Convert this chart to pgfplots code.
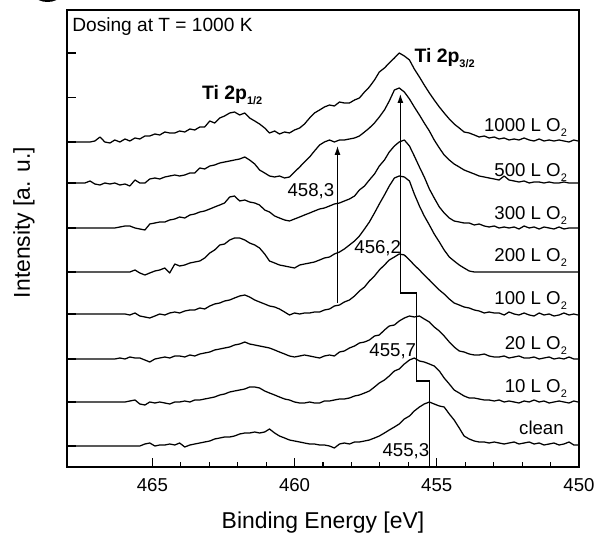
\documentclass[border=0pt]{standalone}
\usepackage{fontspec}
\setmainfont{Liberation Sans}
\usepackage{pgfplots}
\pgfplotsset{compat=1.18}
\usepackage{pgfplotstable}
\usetikzlibrary{arrows.meta}

\pgfplotstableread{
E c1000 c500 c300 c200 c100 c20 c10 clean
468.00 325 284 239 195 153 108 65 21
467.89 325 284 239 195 153 108 65 21
467.72 325 284 239 195 153 108 65 21
467.54 325 284 239 195 153 108 65 21
467.37 325 284 239 195 153 108 65 21
467.19 325 286 239 195 153 108 65 21
467.02 326 283 239 195 153 108 65 21
466.84 330 282 239 195 153 108 65 21
466.67 325 284 239 195 153 108 65 21
466.49 324 283 239 195 153 108 65 21
466.32 327 284 239 195 153 108 65 21
466.14 325 282 240 195 153 109 65 21
465.96 328 283 241 195 153 108 65 21
465.79 326 281 241 195 152 110 66 21
465.61 329 287 239 197 154 109 67 21
465.44 328 284 238 194 151 109 63 21
465.26 331 284 237 192 150 107 62 23
465.09 331 288 243 194 149 105 65 24
464.91 333 289 244 196 151 108 64 21
464.74 332 288 245 197 153 109 65 22
464.56 335 290 245 199 152 110 64 22
464.39 334 291 247 194 154 109 63 23
464.21 334 292 248 203 155 111 65 22
464.04 336 291 250 201 154 111 65 24
463.86 335 292 249 202 156 110 66 20
463.68 338 294 252 204 157 112 65 22
463.51 337 294 253 205 157 111 67 23
463.33 340 299 255 206 159 113 67 24
463.16 340 298 256 209 158 114 68 25
462.98 346 301 258 214 161 115 69 26
462.81 344 302 260 217 163 117 70 28
462.63 349 304 262 222 164 118 72 29
462.46 351 305 264 223 166 119 73 30
462.28 354 306 270 227 167 120 75 30
462.11 355 307 271 229 169 122 76 31
461.93 352 308 266 229 171 123 77 33
461.75 354 310 267 227 172 125 78 34
461.58 349 307 265 224 170 123 80 34
461.40 346 303 264 222 167 122 80 35
461.23 343 297 262 219 165 121 79 34
461.05 339 294 257 213 163 120 76 35
460.88 334 291 255 206 161 119 74 38
460.70 336 290 251 204 160 117 72 34
460.53 333 291 249 202 158 115 70 31
460.35 335 289 247 201 155 113 68 29
460.18 334 290 246 200 152 111 67 27
460.00 337 295 248 199 154 110 65 26
459.82 339 300 250 202 153 111 64 25
459.65 343 305 252 203 154 112 64 24
459.47 349 310 254 204 154 111 65 23
459.30 354 316 256 205 155 110 64 23
459.12 357 322 258 207 155 109 64 22
458.95 360 325 259 209 157 111 66 22
458.77 362 327 261 210 158 112 66 21
458.60 361 325 263 213 161 111 67 19
458.42 365 327 264 215 162 115 68 23
458.25 364 327 266 218 165 116 68 24
458.07 364 328 268 222 167 119 69 23
457.89 367 329 271 226 171 121 71 25
457.72 369 331 277 231 176 124 72 25
457.54 375 335 281 238 180 125 74 26
457.37 380 339 287 245 186 127 76 27
457.19 387 344 293 254 191 131 80 29
457.02 395 350 301 263 197 132 84 31
456.84 399 357 307 272 202 137 87 34
456.67 404 366 315 281 207 141 91 37
456.49 409 377 321 289 210 142 96 40
456.32 414 379 325 291 213 146 98 43
456.14 411 375 327 290 212 149 103 48
455.96 407 368 321 286 207 151 107 51
455.79 398 360 311 273 202 150 109 56
455.61 390 352 300 261 197 151 106 60
455.44 382 344 290 251 192 148 105 63
455.26 374 336 278 242 187 145 103 65
455.09 367 327 269 233 182 140 101 63
454.91 360 319 260 225 177 136 96 61
454.74 354 312 254 217 173 131 89 60
454.56 348 307 249 210 168 125 83 53
454.39 343 303 246 206 164 120 77 47
454.21 339 300 245 202 162 116 74 39
454.04 335 297 244 199 160 115 71 31
453.86 334 295 244 196 159 113 69 28
453.68 332 293 242 195 157 112 69 26
453.51 330 291 243 195 156 112 68 25
453.33 331 290 241 195 154 113 67 25
453.16 329 289 240 195 155 111 67 24
452.98 330 288 241 195 154 110 66 25
452.81 328 287 239 195 154 110 67 24
452.63 329 291 240 195 152 111 65 23
452.46 327 287 239 195 155 109 66 24
452.28 328 286 240 195 153 110 65 25
452.11 327 285 238 195 152 111 64 23
451.93 329 286 241 195 154 109 66 24
451.75 327 284 239 195 152 109 65 25
451.58 326 285 240 195 151 110 67 23
451.40 328 285 238 195 154 108 65 24
451.23 326 284 240 195 152 109 66 22
451.05 327 285 239 195 153 110 64 23
450.88 326 284 238 195 151 108 65 24
450.70 327 284 240 195 152 109 66 22
450.53 326 285 238 195 154 108 65 23
450.35 325 284 239 195 152 110 64 25
450.18 327 284 239 195 153 108 66 22
450.04 326 284 239 195 152 108 65 22
}\spectra

\newcommand\lab{\fontsize{18.7}{20}\selectfont}
\newcommand\sub[1]{\raisebox{-5bp}{\fontsize{11}{11}\selectfont #1}}
\tikzset{spec/.style={black, line width=1.25bp, mark=none, line join=round}}

\begin{document}
\begin{tikzpicture}
\begin{axis}[name=ax, scale only axis, width=512bp, height=457bp,
  x dir=reverse, xmin=450, xmax=468, ymin=0, ymax=457,
  xtick={450,455,460,465}, minor x tick num=4,
  ytick={21,65,108,153,195,239,284,325,369.5,414}, yticklabels={},
  xtick pos=bottom, ytick pos=left, tick align=inside,
  major tick length=9bp, minor tick length=4.5bp,
  axis line style={line width=1.5bp},
  tick style={black, line width=1.2bp},
  tick label style={font=\lab},
  xticklabel style={yshift=-8bp},
  /pgf/number format/assume math mode=true,
  clip=false,
]
\addplot[spec] table[x=E,y=c1000]{\spectra};
\addplot[spec] table[x=E,y=c500]{\spectra};
\addplot[spec] table[x=E,y=c300]{\spectra};
\addplot[spec] table[x=E,y=c200]{\spectra};
\addplot[spec] table[x=E,y=c100]{\spectra};
\addplot[spec] table[x=E,y=c20]{\spectra};
\addplot[spec] table[x=E,y=c10]{\spectra};
\addplot[spec] table[x=E,y=clean]{\spectra};

\draw[line width=1.1bp, -{Latex[length=9bp,width=6bp]}] (axis cs:458.49,164) -- (axis cs:458.49,321);
\draw[line width=1.1bp, -{Latex[length=9bp,width=6bp]}] (axis cs:456.28,174) -- (axis cs:456.28,373);
\draw[line width=1.1bp] (axis cs:456.28,174) -- (axis cs:455.72,174) -- (axis cs:455.72,86) -- (axis cs:455.26,86) -- (axis cs:455.26,0);

\node[anchor=base east, inner sep=0, font=\lab] at (axis cs:458.60,270) {458,3};
\node[anchor=base east, inner sep=0, font=\lab] at (axis cs:456.25,213) {456,2};
\node[anchor=base east, inner sep=0, font=\lab] at (axis cs:455.72,110) {455,7};
\node[anchor=base east, inner sep=0, font=\lab] at (axis cs:455.26,10) {455,3};

\node[anchor=base east, inner sep=0, font=\lab] at (axis cs:450.42,335) {1000 L O\sub{2}};
\node[anchor=base east, inner sep=0, font=\lab] at (axis cs:450.42,290) {500 L O\sub{2}};
\node[anchor=base east, inner sep=0, font=\lab] at (axis cs:450.42,247) {300 L O\sub{2}};
\node[anchor=base east, inner sep=0, font=\lab] at (axis cs:450.42,205) {200 L O\sub{2}};
\node[anchor=base east, inner sep=0, font=\lab] at (axis cs:450.42,162) {100 L O\sub{2}};
\node[anchor=base east, inner sep=0, font=\lab] at (axis cs:450.42,117) {20 L O\sub{2}};
\node[anchor=base east, inner sep=0, font=\lab] at (axis cs:450.42,74) {10 L O\sub{2}};
\node[anchor=base east, inner sep=0, font=\lab] at (axis cs:450.53,32) {clean};

\node[anchor=base west, inner sep=0, font=\fontsize{19.2}{20}\selectfont] at (axis cs:467.82,435) {Dosing at T = 1000 K};
\node[anchor=base west, inner sep=0, font=\fontsize{19.5}{20}\selectfont\bfseries] at (axis cs:463.26,367) {Ti 2p\raisebox{-5bp}{\fontsize{11}{11}\selectfont\bfseries 1/2}};
\node[anchor=base west, inner sep=0, font=\fontsize{19.5}{20}\selectfont\bfseries] at (axis cs:455.79,404) {Ti 2p\raisebox{-5bp}{\fontsize{11}{11}\selectfont\bfseries 3/2}};
\end{axis}
\node[font=\fontsize{23}{24}\selectfont, anchor=base, inner sep=0] at ([yshift=-61bp]ax.south) {Binding Energy [eV]};
\node[font=\fontsize{23}{24}\selectfont, rotate=90, anchor=center, inner sep=0] at ([xshift=-43bp,yshift=16bp]ax.west) {Intensity [a. u.]};
\fill[black] ([xshift=-19.5bp,yshift=29.5bp]ax.north west) circle[radius=21.5bp];
\pgfresetboundingbox
\path[use as bounding box] ([xshift=-67bp,yshift=-67bp]ax.south west) rectangle ([xshift=16bp,yshift=10bp]ax.north east);
\end{tikzpicture}
\end{document}
